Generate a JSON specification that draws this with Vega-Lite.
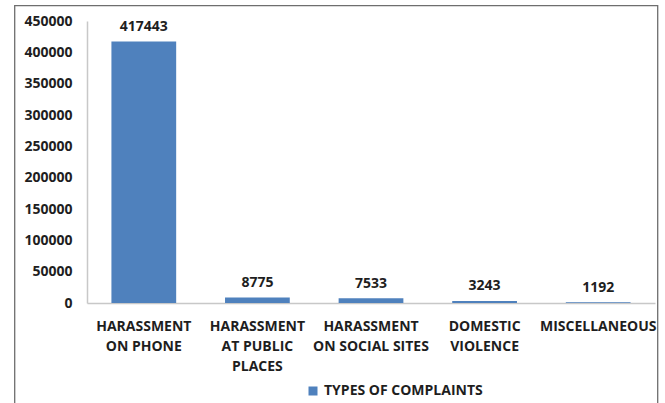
{
  "$schema": "https://vega.github.io/schema/vega-lite/v6.json",
  "description": "Types of complaints",
  "autosize": {"type": "none"},
  "padding": {"left": 14.5, "top": 5.5, "right": 7.5, "bottom": 0},
  "width": 643,
  "height": 400,
  "background": "white",
  "data": {
    "values": [
      {"category": "HARASSMENT|ON PHONE", "count": 417443, "series": "TYPES OF COMPLAINTS"},
      {"category": "HARASSMENT|AT PUBLIC|PLACES", "count": 8775, "series": "TYPES OF COMPLAINTS"},
      {"category": "HARASSMENT|ON SOCIAL SITES", "count": 7533, "series": "TYPES OF COMPLAINTS"},
      {"category": "DOMESTIC|VIOLENCE", "count": 3243, "series": "TYPES OF COMPLAINTS"},
      {"category": "MISCELLANEOUS", "count": 1192, "series": "TYPES OF COMPLAINTS"}
    ]
  },
  "encoding": {
    "x": {
      "field": "category",
      "type": "nominal",
      "sort": null,
      "scale": {"range": [72.5, 640.5], "paddingInner": 0.43, "paddingOuter": 0.215},
      "axis": {
        "title": null,
        "orient": "bottom",
        "offset": -102.5,
        "labelAngle": 0,
        "ticks": false,
        "tickSize": 0,
        "labelPadding": 16,
        "labelExpr": "split(datum.label, '|')",
        "labelLineHeight": 20,
        "labelBaseline": "top",
        "domainColor": "#c8c8c8",
        "domainWidth": 1.5
      }
    },
    "y": {
      "field": "count",
      "type": "quantitative",
      "scale": {"domain": [0, 450000], "range": [297.5, 15.5], "nice": false, "zero": false},
      "axis": {
        "title": null,
        "orient": "left",
        "offset": -72.5,
        "values": [0, 50000, 100000, 150000, 200000, 250000, 300000, 350000, 400000, 450000],
        "format": "d",
        "grid": false,
        "ticks": false,
        "tickSize": 0,
        "labelPadding": 15,
        "domainColor": "#c8c8c8",
        "domainWidth": 1.5
      }
    }
  },
  "layer": [
    {
      "mark": {"type": "bar", "color": "#4F81BD"},
      "encoding": {
        "y2": {"datum": 0},
        "color": {
          "field": "series",
          "type": "nominal",
          "scale": {"range": ["#4F81BD"]},
          "legend": {
            "title": null,
            "orient": "none",
            "legendX": 291.5,
            "legendY": 378.5,
            "padding": 0,
            "symbolType": "square",
            "symbolSize": 81,
            "symbolStrokeWidth": 0,
            "labelOffset": 4
          }
        }
      }
    },
    {
      "mark": {"type": "text", "dy": -10.5, "baseline": "alphabetic", "align": "center", "font": "Open Sans", "fontWeight": "bold", "fontSize": 14, "color": "#1e1e1e"},
      "encoding": {"text": {"field": "count", "type": "quantitative", "format": "d"}}
    }
  ],
  "config": {
    "view": {"stroke": "#6e6e6e", "strokeWidth": 1.3},
    "font": "Open Sans",
    "axis": {
      "labelFont": "Open Sans",
      "labelFontWeight": "bold",
      "labelFontSize": 14,
      "labelColor": "#1e1e1e"
    },
    "legend": {
      "labelFont": "Open Sans",
      "labelFontWeight": "bold",
      "labelFontSize": 14,
      "labelColor": "#1e1e1e"
    }
  }
}
